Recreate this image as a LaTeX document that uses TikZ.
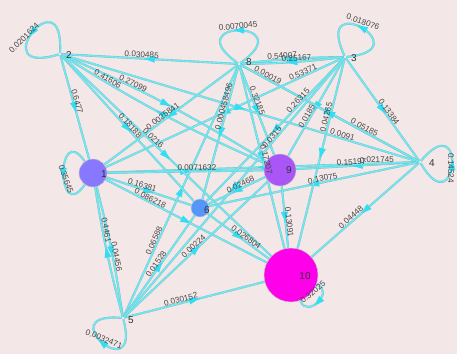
\documentclass[tikz,border=0pt]{standalone}
\usepackage{fontspec}
\setmainfont{Liberation Sans}
\usetikzlibrary{decorations.markings}
\pgfdeclarelayer{back}
\pgfdeclarelayer{edges}
\pgfsetlayers{back,edges,main}
\definecolor{bgpink}{RGB}{244,231,231}
\definecolor{edgecyan}{RGB}{105,236,246}
\definecolor{edgerim}{RGB}{135,185,192}
\definecolor{arrcyan}{RGB}{50,222,242}
\definecolor{nodeone}{RGB}{136,120,255}
\definecolor{nodenine}{RGB}{170,85,245}
\definecolor{nodesix}{RGB}{85,150,250}
\definecolor{nodeten}{RGB}{255,0,235}
\tikzset{
	edge/.style={draw=edgerim, line width=0.3pt, double=edgecyan, double distance=1.2pt,
		postaction={decorate},
		decoration={markings, mark=at position 0.5 with {\fill[arrcyan] (4.5pt,0) -- (-4.5pt,3pt) -- (-4.5pt,-3pt) -- cycle;}}},
	vtx/.style={circle, inner sep=0pt, minimum size=2pt},
	bignode/.style={circle, draw=gray!45, line width=0.4pt, inner sep=0pt},
	numlbl/.style={font=\fontsize{8.5}{9}\selectfont, text=black!80, inner sep=1pt},
	elbl/.style={font=\fontsize{7}{8}\selectfont, text=black!72, sloped, inner sep=0.6pt, anchor=south},
	looplbl/.style={font=\fontsize{7}{8}\selectfont, text=black!72, inner sep=0.6pt}
}

\begin{document}
\begin{tikzpicture}[x=0.03cm,y=-0.03cm]
	\begin{pgfonlayer}{back}
		\fill[bgpink] (0,0) rectangle (457,354);
	\end{pgfonlayer}
	\useasboundingbox (0,0) rectangle (457,354);

	% vertices
	\node[vtx] (n2) at (60,54) {};
	\node[vtx] (n8) at (239,64) {};
	\node[vtx] (n3) at (345,57) {};
	\node[vtx] (n4) at (420,162) {};
	\node[vtx] (n5) at (123,318) {};
	\node[bignode, fill=nodeone, minimum size=0.84cm] (n1) at (93,173) {};
	\node[bignode, fill=nodenine, minimum size=0.96cm] (n9) at (280,170) {};
	\node[bignode, fill=nodesix, minimum size=0.54cm] (n6) at (200,208) {};
	\node[bignode, fill=nodeten, minimum size=1.62cm] (n10) at (291,275) {};

	\node[numlbl] (t2) at (69,55) {2};
	\node[numlbl] (t8) at (249,62) {8};
	\node[numlbl] (t3) at (354,58) {3};
	\node[numlbl] (t4) at (432,163) {4};
	\node[numlbl] (t5) at (131,320) {5};
	\node[numlbl] (t1) at (104,174) {1};
	\node[numlbl] (t9) at (289,170) {9};
	\node[numlbl] (t6) at (207,210) {6};
	\node[numlbl] (t10) at (305,276) {10};

	% edges
	\foreach \a/\b/\bb/\w/\p in {8/2/0/0.030485/0.55, 2/9/4/0.27099/0.32, 9/2/4/0.41606/0.79,
		2/1/0/0.6477/0.45, 8/3/3/0.54007/0.4, 3/8/3/0.25167/0.45, 3/4/0/0.13384/0.55,
		4/9/0/0.15197/0.55, 4/1/0/0.021745/0.12, 4/6/0/0.13075/0.45, 4/10/0/0.04448/0.62,
		5/10/0/0.030152/0.4, 1/5/3/0.04456/0.55, 5/1/3/0.4461/0.68, 1/6/0/0.16381/0.4,
		1/10/0/0.086218/0.25, 1/9/0/0.0071632/0.58, 8/4/0/0.00019/0.13, 3/1/0/0.53371/0.15,
		6/10/0/0.026804/0.6, 5/9/0/0.00224/0.5, 5/8/0/0.06588/0.28, 5/6/0/0.01528/0.5,
		9/10/0/0.13091/0.6, 2/6/0/0.18188/0.5, 8/1/0/0.0025841/0.55, 8/6/0/0.000458496/0.3,
		8/9/0/0.32185/0.4, 8/10/0/0.17207/0.52, 3/9/0/0.0185/0.62, 3/6/0/0.26315/0.3,
		3/10/0/0.04265/0.3, 2/10/0/0.0216/0.42, 2/4/0/0.0091/0.8, 4/8/0/0.05185/0.3,
		9/6/0/0.02468/0.4, 3/5/0/0.0315/0.3} {
		\begin{pgfonlayer}{edges}
			\draw[edge] (n\a) to[bend left=\bb] (n\b);
		\end{pgfonlayer}
		\path (n\a) to[bend left=\bb] node[elbl, pos=\p] {\w} (n\b);
	}

	% loops
	\begin{pgfonlayer}{edges}
		\draw[edge] (n2) to[out=87, in=197, distance=2.4cm] (n2);
		\draw[edge] (n8) to[out=35, in=145, distance=2.3cm] (n8);
		\draw[edge] (n3) to[out=5, in=115, distance=2.3cm] (n3);
		\draw[edge] (n4) to[out=-60, in=50, distance=2.2cm] (n4);
		\draw[edge] (n1) to[out=125, in=235, distance=1.5cm] (n1);
		\draw[edge] (n5) to[out=-75, in=-185, distance=2.2cm] (n5);
		\draw[edge] (n10) to[out=-20, in=-70, distance=0.6cm] (n10);
	\end{pgfonlayer}
	\node[looplbl, rotate=45] (l2) at (24,38) {0.0201624};
	\node[looplbl, rotate=6] (l8) at (238,26) {0.0070045};
	\node[looplbl, rotate=-20] (l3) at (363,22) {0.018076};
	\node[looplbl, rotate=-90] (l4) at (451,168) {0.14524};
	\node[looplbl, rotate=-70] (l1) at (66,179) {0.35645};
	\node[looplbl, rotate=-22] (l5) at (104,339) {0.0032471};
	\node[looplbl, rotate=40] (l10) at (313,292) {0.32025};
\end{tikzpicture}
\end{document}
